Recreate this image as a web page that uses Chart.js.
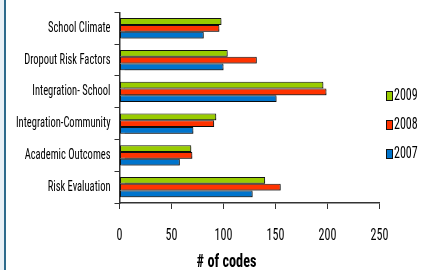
<!DOCTYPE html>
<html>
<head>
<meta charset="utf-8">
<script src="https://cdn.jsdelivr.net/npm/chart.js@4/dist/chart.umd.min.js"></script>
<style>
  html, body { margin: 0; padding: 0; background: #ffffff; width: 421px; height: 270px; overflow: hidden; }
  #strip { position: absolute; left: 0; top: 0; width: 4px; height: 270px; background: #e9f1f7; }
  #line { position: absolute; left: 4px; top: 0; width: 1.5px; height: 270px; background: #2e6b8c; }
  #wrap { position: absolute; left: 6px; top: 0; width: 415px; height: 270px; }
</style>
</head>
<body>
<div id="strip"></div>
<div id="line"></div>
<div id="wrap"><canvas id="c"></canvas></div>
<script>
const categories = ["School Climate", "Dropout Risk Factors", "Integration- School", "Integration-Community", "Academic Outcomes", "Risk Evaluation"];
const seriesNames = ["2009", "2008", "2007"];
const values2009 = [98, 104, 196, 93, 69, 140];
const values2008 = [96, 132, 199, 91, 70, 155];
const values2007 = [81, 100, 151, 71, 58, 128];
const xTicks = [0, 50, 100, 150, 200, 250];
const axisTitle = "# of codes";
const colors = ["#99cc00", "#ff3300", "#0074cc"];

const FONT = "'Roboto Condensed', 'Liberation Sans', sans-serif";
const TEXT_SQUEEZE = 0.75;

const canvas = document.getElementById('c');
const ctx2d = canvas.getContext('2d');
// render text horizontally condensed (like Arial Narrow in the reference)
const origFillText = ctx2d.fillText;
ctx2d.fillText = function (t, x, y, mw) {
  this.save();
  this.translate(x, y);
  this.scale(TEXT_SQUEEZE, 1);
  origFillText.call(this, t, 0, 0);
  this.restore();
};

const shadowPlugin = {
  id: 'shadow',
  beforeDatasetsDraw(chart) {
    const ctx = chart.ctx;
    ctx.save();
    ctx.shadowColor = 'rgba(0,0,0,0.35)';
    ctx.shadowOffsetX = 1.5;
    ctx.shadowOffsetY = 1.5;
    ctx.shadowBlur = 1;
  },
  afterDatasetsDraw(chart) {
    chart.ctx.restore();
  }
};

const legendPlugin = {
  id: 'sideLegend',
  afterDraw(chart) {
    const ctx = chart.ctx;
    ctx.save();
    chart.data.datasets.forEach((ds, i) => {
      const cy = 96 + i * 29;
      ctx.fillStyle = ds.backgroundColor;
      ctx.fillRect(380, cy - 4.5, 6, 9);
      ctx.strokeStyle = '#111';
      ctx.lineWidth = 1;
      ctx.strokeRect(380.5, cy - 4.5, 6, 9);
      ctx.fillStyle = '#000';
      ctx.font = "16px " + FONT;
      ctx.textBaseline = 'middle';
      ctx.textAlign = 'left';
      ctx.fillText(ds.label, 388, cy);
    });
    // axis title, centred under the "100" region as in the reference
    const xs = chart.scales.x;
    ctx.font = "bold 19px " + FONT;
    ctx.textAlign = 'center';
    ctx.textBaseline = 'middle';
    ctx.fillText(axisTitle, xs.getPixelForValue(100) + 3, 262);
    ctx.restore();
  }
};

new Chart(canvas, {
  type: 'bar',
  data: {
    labels: categories,
    datasets: [
      { label: seriesNames[0], data: values2009, backgroundColor: colors[0] },
      { label: seriesNames[1], data: values2008, backgroundColor: colors[1] },
      { label: seriesNames[2], data: values2007, backgroundColor: colors[2] }
    ].map(d => Object.assign(d, { borderColor: '#111', borderWidth: 1, borderSkipped: false, categoryPercentage: 0.64, barPercentage: 1 }))
  },
  options: {
    indexAxis: 'y',
    responsive: true,
    maintainAspectRatio: false,
    animation: false,
    devicePixelRatio: 1,
    layout: { padding: { top: 5, right: 41.5, left: 0, bottom: 0 } },
    plugins: { legend: { display: false }, tooltip: { enabled: false } },
    scales: {
      x: {
        type: 'linear',
        min: 0, max: 250,
        afterBuildTicks(scale) { scale.ticks = xTicks.map(v => ({ value: v })); },
        afterFit(scale) { scale.height = 67; },
        border: { display: true, color: '#333', width: 1.5 },
        grid: { drawOnChartArea: false, drawTicks: true, tickLength: 6, color: '#333', lineWidth: 1 },
        ticks: { color: '#000', font: { family: FONT, size: 16 }, padding: 17 },
        title: { display: false }
      },
      y: {
        type: 'category',
        afterFit(scale) { scale.width = 113.5; },
        border: { display: true, color: '#333', width: 1.5 },
        grid: { offset: true, drawOnChartArea: false, drawTicks: true, tickLength: 5, color: '#333', lineWidth: 1 },
        ticks: { color: '#000', font: { family: FONT, size: 14 }, padding: 4 }
      }
    }
  },
  plugins: [shadowPlugin, legendPlugin]
});
</script>
</body>
</html>
